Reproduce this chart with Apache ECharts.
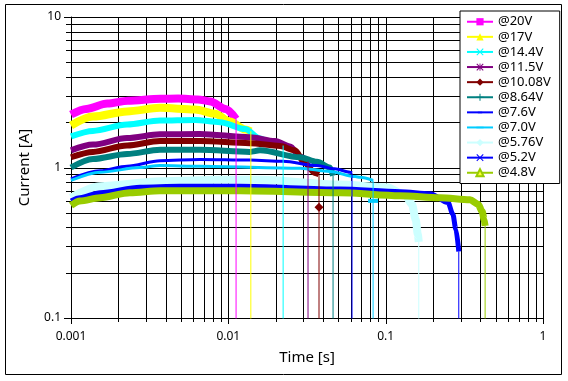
<!DOCTYPE html>
<html><head><meta charset="utf-8">
<script src="https://cdn.jsdelivr.net/npm/echarts@6/dist/echarts.min.js"></script>
<style>html,body{margin:0;padding:0;background:#fff}#c{width:568px;height:381px}</style>
</head><body><div id="c"></div>
<script>
// ---- data (time [s], current [A]) ----
const names = ['@20V','@17V','@14.4V','@11.5V','@10.08V','@8.64V','@7.6V','@7.0V','@5.76V','@5.2V','@4.8V'];
const t20 = [0.001,0.00125,0.0017,0.0023,0.0037,0.0048,0.0064,0.0077,0.0096,0.0112];
const i20 = [2.25,2.45,2.66,2.78,2.86,2.87,2.83,2.75,2.45,2.1];
const t17 = [0.001,0.00138,0.00227,0.00368,0.00614,0.00823,0.01025,0.01277,0.0139];
const i17 = [1.90,2.18,2.36,2.49,2.43,2.28,2.02,1.79,1.74];
const t144 = [0.001,0.00138,0.00227,0.00368,0.00614,0.00886,0.01277,0.0159,0.0184,0.0223];
const i144 = [1.61,1.75,1.93,2.05,2.07,2.0,1.80,1.56,1.47,1.40];
const t115 = [0.001,0.00138,0.00227,0.00368,0.0066,0.0137,0.0198,0.0247,0.0286,0.0321];
const i115 = [1.30,1.42,1.57,1.66,1.67,1.59,1.50,1.38,1.18,1.10];
const t1008 = [0.001,0.00138,0.00227,0.00368,0.0066,0.0137,0.0213,0.0265,0.0306,0.0355,0.0377];
const i1008 = [1.17,1.27,1.40,1.50,1.50,1.45,1.39,1.30,1.07,0.92,0.90];
const t864 = [0.001,0.00138,0.00227,0.00368,0.0066,0.0137,0.0159,0.0286,0.0366,0.0443,0.0463];
const i864 = [1.0,1.14,1.23,1.31,1.31,1.27,1.30,1.17,1.09,1.0,0.88];
const t76 = [0.001,0.00153,0.00227,0.00368,0.0066,0.0137,0.0223,0.0366,0.0475,0.0594,0.0611];
const i76 = [0.84,0.95,1.02,1.11,1.13,1.12,1.10,1.03,0.98,0.93,0.92];
const t70 = [0.001,0.00153,0.00275,0.00368,0.0066,0.0286,0.0443,0.0641,0.0688,0.0832];
const i70 = [0.82,0.93,1.0,1.03,1.02,0.99,0.94,0.87,0.86,0.82];
const t576 = [0.001,0.00153,0.00368,0.00886,0.0159,0.0513,0.1012,0.1329,0.1467,0.1554,0.1600,0.1623];
const i576 = [0.63,0.75,0.81,0.83,0.83,0.77,0.74,0.66,0.57,0.45,0.36,0.32];
const t52 = [0.001,0.00114,0.00153,0.00275,0.0049,0.0119,0.0513,0.1235,0.1916,0.2492,0.2673,0.2792,0.2915];
const i52 = [0.60,0.63,0.68,0.74,0.75,0.75,0.72,0.69,0.67,0.585,0.49,0.39,0.277];
const t48 = [0.001,0.00114,0.00153,0.00237,0.00368,0.0119,0.0513,0.1235,0.2218,0.344,0.387,0.4106,0.4225,0.4286];
const i48 = [0.56,0.60,0.63,0.68,0.70,0.70,0.68,0.65,0.63,0.61,0.57,0.51,0.45,0.41];
// extra markers seen on the drop lines
const dropMark1008 = 0.544;
const dropMark70 = 0.60;
const zeroCurrent = 0.001; // drop to zero (below the axis)
// axis ticks
const xTickLabels = ['0.001','0.01','0.1','1'];
const yTickLabels = ['0.1','1','10'];
const xDecades = [0.001,0.01,0.1];
const yDecades = [0.1,1];
const mults = [1,2,3,4,5,6,7,8,9];

const tArr = [t20,t17,t144,t115,t1008,t864,t76,t70,t576,t52,t48];
const iArr = [i20,i17,i144,i115,i1008,i864,i76,i70,i576,i52,i48];
const colors = ['#FF00FF','#FFFF00','#00FFFF','#800080','#800000','#008080','#0000FF','#00CCFF','#CCFFFF','#0000FF','#99CC00'];
const widths = [8,8,6,6,6,6,3,3,8,5,7];
const X = 'path://M0,1L1,0L5,4L9,0L10,1L6,5L10,9L9,10L5,6L1,10L0,9L4,5Z';
const STAR = 'path://M4.4,0H5.6V10H4.4Z M0,4.4H10V5.6H0Z M0,1L1,0L10,9L9,10Z M9,0L10,1L1,10L0,9Z';
const PLUS = 'path://M4.3,0H5.7V10H4.3Z M0,4.3H10V5.7H0Z';
const DASH_S = 'path://M0,0L0,0Z M2,4H8V6.2H2Z M10,10L10,10Z';
const DASH_L = 'path://M0,0L0,0Z M-1,4H11V6.2H-1Z M10,10L10,10Z';
const symbols = ['rect','triangle',X,STAR,'diamond',PLUS,DASH_S,DASH_L,'diamond',X,'triangle'];
const symColors = colors.slice(); symColors[10] = '#FFFF33';

const xGrid = [], yGrid = [];
xDecades.forEach(d => mults.forEach(m => xGrid.push(+(d*m).toPrecision(3))));
xGrid.push(1);
yDecades.forEach(d => mults.forEach(m => yGrid.push(+(d*m).toPrecision(3))));
yGrid.push(10);
const isMajor = v => Math.abs(Math.log10(v) - Math.round(Math.log10(v))) < 1e-9;

const FONT = 'Noto Sans';
const px = v => Math.round(v) + 0.5;
const series = [{
  type:'custom', name:'grid', silent:true, z:1, clip:false,
  data:[[0.001, 0.1]],
  renderItem:(params, api) => {
    const ch = [];
    const yTop = api.coord([0.001, 10])[1], yBot = api.coord([0.001, 0.1])[1];
    const xL = api.coord([0.001, 1])[0], xR = api.coord([1, 1])[0];
    xGrid.forEach(v => {
      const x = px(api.coord([v, 1])[0]);
      ch.push({type:'line', shape:{x1:x, y1:yTop, x2:x, y2:yBot + (isMajor(v)?6:4)}, style:{stroke:'#000', lineWidth:1}});
    });
    yGrid.forEach(v => {
      const y = px(api.coord([0.001, v])[1]);
      ch.push({type:'line', shape:{x1:xL - (isMajor(v)?7:5), y1:y, x2:xR, y2:y}, style:{stroke:'#000', lineWidth:1}});
    });
    return {type:'group', children:ch};
  }
}];
names.forEach((n,k) => {
  series.push({
    type:'line', name:n + '#band', z:2, smooth:0.3, smoothMonotone:'x', showSymbol:false, symbol:'none',
    lineStyle:{color:colors[k], width:widths[k], cap:'butt', join:'round'},
    data: tArr[k].map((t,j)=>[t, iArr[k][j]])
  });
});
names.forEach((n,k) => {
  const tEnd = tArr[k][tArr[k].length-1];
  const iEnd = iArr[k][iArr[k].length-1];
  const pts = [{value:[tEnd, iEnd], symbol:'none'}];
  if (k===4) pts.push({value:[tEnd, dropMark1008], symbol:'diamond', symbolSize:9});
  if (k===7) pts.push({value:[tEnd, dropMark70], symbol:'rect', symbolSize:[10,4]});
  pts.push({value:[tEnd, zeroCurrent], symbol:'none'});
  series.push({
    type:'line', name:n, z:3, symbol:symbols[k], symbolSize:8, showSymbol:true, showAllSymbol:true,
    itemStyle:{color:symColors[k], borderColor:colors[k], borderWidth:k===10?1:0}, clip:true,
    lineStyle:{color:colors[k], width:1},
    data: pts
  });
});

const chart = echarts.init(document.getElementById('c'), null, {renderer:'canvas'});
chart.setOption({
  animation:false,
  backgroundColor:'#fff',
  textStyle:{fontFamily:FONT},
  grid:{left:71, top:17, width:472, height:301},
  xAxis:{type:'log', logBase:10, min:0.001, max:1,
    name:'Time [s]', nameLocation:'middle', nameGap:32,
    nameTextStyle:{fontSize:15, color:'#000', fontFamily:FONT},
    axisLine:{lineStyle:{color:'#000', width:1}},
    axisTick:{show:false},
    splitLine:{show:false},
    axisLabel:{fontSize:12, color:'#000', margin:13, fontFamily:FONT,
      formatter:(v)=>{const i=Math.round(Math.log10(v))+3; return xTickLabels[i]!==undefined?xTickLabels[i]:'';}}
  },
  yAxis:{type:'log', logBase:10, min:0.1, max:10,
    name:'Current [A]', nameLocation:'middle', nameGap:39,
    nameTextStyle:{fontSize:15, color:'#000', fontFamily:FONT},
    axisLine:{show:true, lineStyle:{color:'#000', width:1}},
    axisTick:{show:false},
    splitLine:{show:false},
    axisLabel:{fontSize:12, color:'#000', margin:10, fontFamily:FONT,
      formatter:(v)=>{const i=Math.round(Math.log10(v))+1; return yTickLabels[i]!==undefined?yTickLabels[i]:'';}}
  },
  legend:{
    data:names, orient:'vertical', left:460, top:11, padding:[4,9,4,6],
    backgroundColor:'#fff', borderColor:'#000', borderWidth:1, borderRadius:0,
    itemWidth:26, itemHeight:9, itemGap:1.6,
    textStyle:{fontSize:13, color:'#000', fontFamily:FONT, lineHeight:13.5}
  },
  graphic:[{type:'rect', shape:{x:5.5, y:4.5, width:556, height:370}, style:{fill:null, stroke:'#000', lineWidth:1}, silent:true, z:100}],
  series
});
</script></body></html>
